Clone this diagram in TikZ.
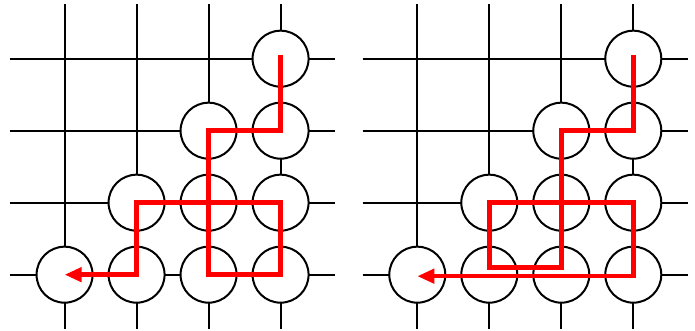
\documentclass[tikz,border=0pt]{standalone}
\usetikzlibrary{arrows.meta}
\begin{document}
\begin{tikzpicture}[
    x=72pt, y=-72pt,
    >={Triangle[length=17pt,width=14pt]},
    grid/.style={line width=2pt},
    stone/.style={circle, draw, line width=2pt, fill=white, minimum size=56pt, inner sep=0pt},
    route/.style={->, draw=red, line width=4.5pt}
]
\useasboundingbox (0,0) rectangle (9.653,4.597);
% left board
\begin{scope}[shift={(0.897,0.815)}]
  \foreach \i in {0,...,3} {
    \draw[grid] (\i,-0.76) -- (\i,3.76);
    \draw[grid] (-0.76,\i) -- (3.76,\i);
  }
  \foreach \c/\r in {3/0,2/1,3/1,1/2,2/2,3/2,0/3,1/3,2/3,3/3}
    \node[stone] (L\c\r) at (\c,\r) {};
\end{scope}
% right board
\begin{scope}[shift={(5.796,0.815)}]
  \foreach \i in {0,...,3} {
    \draw[grid] (\i,-0.76) -- (\i,3.76);
    \draw[grid] (-0.76,\i) -- (3.76,\i);
  }
  \foreach \c/\r in {3/0,2/1,3/1,1/2,2/2,3/2,0/3,1/3,2/3,3/3}
    \node[stone] (R\c\r) at (\c,\r) {};
\end{scope}
% routes
\draw[route] ([yshift=4pt]L30.center) |- (L21.center) |- (L33.center)
    |- (L12.center) |- (L03.center);
\draw[route] ([yshift=4pt]R30.center) |- (R21.center) |- ([yshift=7pt]R13.center)
    |- (R32.center) |- ([yshift=-1.5pt]R03.center);
\end{tikzpicture}
\end{document}
